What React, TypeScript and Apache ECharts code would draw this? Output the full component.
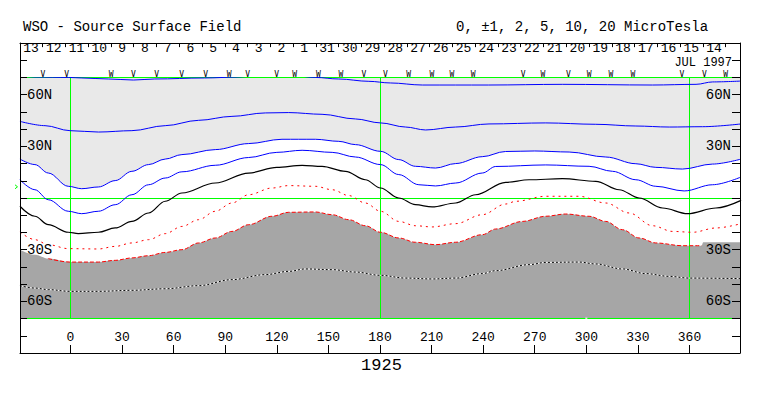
import React, { useEffect, useRef } from 'react';
import * as echarts from 'echarts';

// ---------- axes ----------
const X_MIN = -29.37;
const X_MAX = 389.37;
const LON_TICKS = [0, 30, 60, 90, 120, 150, 180, 210, 240, 270, 300, 330, 360];
const LAT_TICKS = [-80, -70, -60, -50, -40, -30, -20, -10, 0, 10, 20, 30, 40, 50, 60, 70, 80];
const LAT_LABELS = [-60, -30, 30, 60];
const GREEN_LON = [0, 180, 360];
const GREEN_LAT = [70, 0, -70];

// ---------- date row ----------
const DAY_LABELS = ['13', '12', '11', '10', '9', '8', '7', '6', '5', '4', '3', '2', '1', '31', '30', '29', '28', '27', '26', '25', '24', '23', '22', '21', '20', '19', '18', '17', '16', '15', '14'];
const DAY0_LON = -22.95; // Carrington longitude at the centre of the first day label
const DAY_STEP = 13.24; // degrees per day
const DAY_LABEL_LAT = 87.0;
const DAY_TICK_LAT = 87.6;

// ---------- observation marks ----------
const OBS_LON = [-16, -2.2, 23.6, 36.6, 50.1, 64.6, 78.6, 92.2, 103.1, 119.9, 130.4, 144.2, 157.3, 170.6, 183.2, 196.6, 210.2, 221.8, 234.2, 263.3, 274.8, 289.6, 301.6, 314.3, 327.1, 355.6, 368.6, 381.1];
const OBS_TYPE = ['V', 'V', 'W', 'V', 'V', 'V', 'V', 'W', 'V', 'V', 'W', 'W', 'W', 'V', 'V', 'W', 'W', 'W', 'W', 'V', 'W', 'V', 'W', 'W', 'W', 'V', 'V', 'W'];
const OBS_LAT = 71.8;
const B0_LAT = 6.5;

// ---------- contours [longitude, latitude] ----------
const C_P20 = [[-29.4, 71], [-20, 70.2], [-1.2, 70], [6.6, 69.7], [22, 69.1], [36.6, 68.5], [49, 69.1], [78, 69.7], [97, 70.2], [110, 71], [130, 71], [142.5, 70], [156, 69.1], [173.5, 67.75], [186, 66.8], [204.6, 65.6], [243, 65.6], [286, 66], [338.5, 65.6], [363.8, 66], [373.5, 67.4], [390, 67.9]];
const C_P10 = [[-29.4, 44.5], [-14.8, 42.0], [-0.3, 39.1], [16.3, 38.3], [35.7, 39.1], [55.1, 42.0], [74.5, 45.1], [93.9, 47.4], [113.3, 49.4], [126.9, 49.6], [146.3, 48.6], [165.7, 45.9], [180.3, 43.6], [194.9, 41.2], [206.5, 39.5], [224, 41.2], [243.4, 43.0], [276.4, 43.6], [305.5, 42.8], [328.8, 41.8], [348.2, 41.2], [367.6, 41.4], [390, 43.0]];
const C_P5 = [[-29.4, 22.6], [-20.7, 19.4], [-12.9, 14.5], [-1.3, 6.8], [6.5, 5.4], [16.2, 6.4], [26, 10.1], [35.7, 15.5], [45.4, 19.4], [55.1, 22.6], [64.8, 25.2], [84.2, 28.1], [103.6, 31.6], [123, 34.1], [142.4, 34.1], [156, 32.9], [165.7, 31.0], [180.3, 27.1], [190.9, 22.3], [200.6, 18.4], [212.3, 17.4], [224, 20.0], [239.5, 24.0], [253, 27.0], [270, 27.3], [290, 26.7], [311.3, 23.8], [328.8, 19.9], [340.4, 17.8], [355.9, 16.8], [373.4, 19.7], [390, 22.6]];
const C_P2 = [[-29.4, 10.6], [-20.7, 4.8], [-12.9, -1.0], [-1.3, -7.7], [6.5, -9.1], [16.2, -7.7], [26, -3.9], [35.7, 1.9], [45.4, 7.7], [55.1, 11.6], [64.8, 15.2], [84.2, 19.0], [103.6, 23.5], [120, 26.5], [134.7, 27.7], [152.2, 26.5], [165.7, 23.8], [180.3, 19.4], [190.9, 13.6], [202.6, 7.7], [212.3, 7.0], [224, 8.7], [239.5, 14.5], [247.3, 18.3], [276.4, 19.2], [301.6, 18.4], [315.2, 15.5], [328.8, 10.6], [340.4, 6.8], [356.9, 4.1], [373.4, 7.7], [390, 12.2]];
const C_ZERO = [[-29.4, -4.8], [-20.7, -10.6], [-12.9, -15.5], [-1.3, -19.9], [4.5, -20.7], [16.2, -19.9], [26, -17.4], [35.7, -13.6], [45.4, -8.7], [55.1, -1.9], [64.8, 2.9], [84.2, 8.7], [103.6, 14.5], [120, 17.8], [134.7, 19.0], [146.3, 18.4], [159.9, 15.5], [171.5, 10.6], [180.3, 5.8], [190.9, 0], [200.6, -3.9], [210.3, -5.2], [224, -2.9], [235.6, 1.9], [253.1, 9.1], [266.7, 10.6], [286.1, 11.2], [305.5, 9.7], [319.1, 4.8], [330.7, 0], [344.3, -5.8], [358.9, -9.1], [375.4, -5.8], [390, -1.4]];
const C_M2 = [[-29.4, -19.7], [-20.7, -24.2], [-12.9, -27.1], [-1.3, -29.4], [16.2, -29.6], [26, -28.1], [35.7, -26.1], [45.4, -24.2], [55.1, -20.7], [64.8, -16.5], [74.5, -12.6], [84.2, -7.7], [93.9, -2.9], [103.6, 1.9], [117.2, 5.8], [126.9, 7.2], [142.4, 6.8], [152.2, 4.8], [161.9, 1.4], [171.5, -2.9], [180.3, -7.7], [190.9, -13.6], [200.6, -16.1], [210.3, -16.8], [224, -14.9], [239.5, -9.7], [253.1, -3.5], [259, -1.9], [276.4, 1.0], [295.8, 1.0], [311.3, -2.9], [324.9, -8.7], [338.5, -16.1], [350.1, -19.4], [361.8, -19.9], [375.4, -17.4], [390, -14.9]];
const C_M5 = [[-29.4, -30], [-20.7, -33], [-12.9, -35.2], [-0.3, -37.2], [16.2, -37.2], [26, -36.2], [35.7, -34.8], [45.4, -33.5], [55.1, -31.6], [64.8, -30.0], [74.5, -26.1], [84.2, -23.2], [93.9, -19.4], [103.6, -15.5], [117.2, -10.6], [126.9, -8.3], [142.4, -8.1], [152.2, -9.7], [161.9, -12.6], [171.5, -16.1], [180.3, -19.9], [190.9, -23.2], [200.6, -25.7], [212.3, -27.1], [224, -25.7], [239.5, -21.3], [247.3, -18.0], [262.8, -13.6], [276.4, -10.6], [288, -9.3], [301.6, -10.6], [311.3, -13.6], [321, -18.4], [330.7, -23.2], [340.4, -26.1], [355.9, -27.7], [367, -27.7], [368, -25.7], [390, -25.7]];
const C_M10 = [[-29.4, -50.9], [-20.7, -52.3], [-12.9, -53.2], [-0.3, -54.2], [16.2, -54.2], [35.7, -53.6], [55.1, -52.7], [74.5, -50.9], [93.9, -47.4], [113.3, -44.5], [126.9, -42.6], [136.6, -41.2], [152.2, -41.6], [165.7, -43.0], [180.3, -44.9], [194.9, -46.5], [210.3, -47.0], [224, -46.5], [239.5, -43.9], [247.3, -42.2], [266.7, -38.7], [276.4, -37.4], [295.8, -37.2], [305.5, -38.3], [321, -41.2], [334.6, -43.9], [348.2, -45.5], [359.8, -46.5], [390, -46.8]];
const MARK_WHITE = [[300, -70]];

const FONT = "'Liberation Mono', 'DejaVu Sans Mono', monospace";
const BLUE = '#0000ff';
const RED = '#ff0000';
const GREEN = '#00ff00';
const LIGHT = '#e9e9e9';
const DARK = '#a6a6a6';

const line = (data: number[][], color: string, type: any, z = 5, width = 1) => ({
  type: 'line',
  data,
  xAxisIndex: 2,
  yAxisIndex: 2,
  smooth: 0.35,
  smoothMonotone: 'x',
  symbol: 'none',
  showSymbol: false,
  silent: true,
  clip: true,
  lineStyle: { color, width, type },
  z,
});

const latFmt = (v: number) => `${Math.abs(v)}${v > 0 ? 'N' : 'S'}`;
const crisp = (v: number) => Math.floor(v + 0.01) + 0.5;

export default function App() {
  const ref = useRef<HTMLDivElement>(null);
  useEffect(() => {
    if (!ref.current) return;
    const chart = echarts.init(ref.current, null, { renderer: 'svg' });
    const frameTop = 43;
    const frameH = 310;
    const pxPerDeg = frameH / 180;
    const axisLine = { show: true, onZero: false, lineStyle: { color: '#000', width: 1 } };

    const option: any = {
      animation: false,
      backgroundColor: '#ffffff',
      textStyle: { fontFamily: FONT },
      grid: [
        { left: 20, top: frameTop, width: 720, height: frameH },
        { left: 20, top: frameTop + 20 * pxPerDeg, width: 720, height: 140 * pxPerDeg },
      ],
      xAxis: [
        {
          gridIndex: 0, type: 'value', min: X_MIN, max: X_MAX, position: 'bottom', z: 20,
          axisLine,
          axisTick: { show: true, inside: true, length: 8, customValues: LON_TICKS, lineStyle: { color: '#000' } },
          axisLabel: { show: true, inside: true, margin: 9, customValues: LON_TICKS, color: '#000', fontSize: 13, fontFamily: FONT, formatter: (v: number) => String(v) },
          splitLine: { show: false },
        },
        {
          gridIndex: 0, type: 'value', min: X_MIN, max: X_MAX, position: 'top', z: 20,
          axisLine,
          axisTick: { show: false }, axisLabel: { show: false }, splitLine: { show: false },
        },
        {
          gridIndex: 1, type: 'value', min: X_MIN, max: X_MAX, show: false,
          axisLine: { show: false, onZero: false }, axisTick: { show: false }, axisLabel: { show: false }, splitLine: { show: false },
        },
      ],
      yAxis: [
        {
          gridIndex: 0, type: 'value', min: -90, max: 90, position: 'left', z: 20,
          axisLine,
          axisTick: { show: true, inside: true, length: 7, customValues: LAT_TICKS, lineStyle: { color: '#000' } },
          axisLabel: { show: true, inside: true, margin: 7, customValues: LAT_LABELS, color: '#000', fontSize: 14, fontFamily: FONT, formatter: latFmt },
          splitLine: { show: false },
        },
        {
          gridIndex: 0, type: 'value', min: -90, max: 90, position: 'right', z: 20,
          axisLine,
          axisTick: { show: true, inside: true, length: 8, customValues: LAT_TICKS, lineStyle: { color: '#000' } },
          axisLabel: { show: true, inside: true, margin: 9, customValues: LAT_LABELS, color: '#000', fontSize: 14, fontFamily: FONT, formatter: latFmt },
          splitLine: { show: false },
        },
        {
          gridIndex: 1, type: 'value', min: -70, max: 70, show: false,
          axisLine: { show: false, onZero: false }, axisTick: { show: false }, axisLabel: { show: false }, splitLine: { show: false },
        },
      ],
      graphic: [
        { type: 'text', left: 23, top: 20, style: { text: 'WSO - Source Surface Field', fill: '#000', font: `14px ${FONT}` } },
        { type: 'text', left: 456, top: 20, style: { text: '0, ±1, 2, 5, 10, 20 MicroTesla', fill: '#000', font: `14px ${FONT}` } },
        { type: 'text', right: 31, top: 56.5, style: { text: 'JUL 1997', fill: '#000', font: `12px ${FONT}`, lineHeight: 11 } },
        { type: 'text', left: 'center', top: 357, style: { text: '1925', fill: '#000', font: `17px ${FONT}` } },
      ],
      series: [
        // light-grey positive region above the 5 contour
        {
          type: 'line', data: C_P5, xAxisIndex: 2, yAxisIndex: 2, smooth: 0.35, smoothMonotone: 'x',
          symbol: 'none', silent: true, lineStyle: { width: 0, opacity: 0 },
          areaStyle: { color: LIGHT, origin: 'end', opacity: 1 }, z: 1,
        },
        // dark-grey negative region below the -5 contour
        {
          type: 'line', data: C_M5, xAxisIndex: 2, yAxisIndex: 2, smooth: 0.35, smoothMonotone: 'x',
          symbol: 'none', silent: true, lineStyle: { width: 0, opacity: 0 },
          areaStyle: { color: DARK, origin: 'start', opacity: 1 }, z: 1,
        },
        // green reference lines (vertical)
        {
          type: 'custom', xAxisIndex: 2, yAxisIndex: 2, silent: true, z: 3, clip: false,
          data: GREEN_LON.map((l) => [l, 0]),
          renderItem: (params: any, api: any) => {
            const a = api.coord([api.value(0), 70]);
            const b = api.coord([api.value(0), -70]);
            const x = crisp(a[0]);
            return { type: 'line', shape: { x1: x, y1: a[1], x2: x, y2: b[1] }, style: { stroke: GREEN, lineWidth: 1 } };
          },
        },
        // green reference lines (horizontal)
        {
          type: 'custom', xAxisIndex: 2, yAxisIndex: 2, silent: true, z: 3, clip: false,
          data: GREEN_LAT.map((v) => [X_MIN, v]),
          renderItem: (params: any, api: any) => {
            const a = api.coord([X_MIN, api.value(1)]);
            const b = api.coord([X_MAX, api.value(1)]);
            const y = crisp(a[1]);
            return { type: 'line', shape: { x1: a[0], y1: y, x2: b[0], y2: y }, style: { stroke: GREEN, lineWidth: 1 } };
          },
        },
        line(C_P20, BLUE, 'solid', 6),
        line(C_P10, BLUE, 'solid'),
        line(C_P5, BLUE, 'solid'),
        line(C_P2, BLUE, 'solid'),
        line(C_ZERO, '#000000', 'solid', 5, 1.2),
        line(C_M2, RED, [2, 4]),
        line(C_M5.slice(2, C_M5.length - 2), RED, [4, 2]),
        line(C_M10, '#ffffff', 'solid'),
        line(C_M10, '#000000', [2, 2], 6),
        {
          type: 'scatter', data: MARK_WHITE, xAxisIndex: 2, yAxisIndex: 2, symbol: 'rect', symbolSize: [2, 2],
          itemStyle: { color: '#ffffff' }, silent: true, z: 7,
        },
        // date row: labels and day-boundary ticks
        {
          type: 'custom', xAxisIndex: 0, yAxisIndex: 0, silent: true, z: 8, clip: false,
          data: DAY_LABELS.map((_, i) => [DAY0_LON + i * DAY_STEP, DAY_LABEL_LAT]),
          renderItem: (params: any, api: any) => {
            const lon = api.value(0);
            const c = api.coord([lon, api.value(1)]);
            const children: any[] = [
              { type: 'text', x: c[0], y: c[1], style: { text: DAY_LABELS[params.dataIndex], fill: '#000', font: `13px ${FONT}`, lineHeight: 11, align: 'center', verticalAlign: 'middle' } },
            ];
            const addTick = (tl: number) => {
              if (tl <= X_MIN + 0.5) return;
              const a = api.coord([tl, 90]);
              const b = api.coord([tl, DAY_TICK_LAT]);
              const x = Math.round(a[0]) + 0.5;
              children.push({ type: 'line', shape: { x1: x, y1: a[1], x2: x, y2: b[1] }, style: { stroke: '#000', lineWidth: 1 } });
            };
            addTick(lon - DAY_STEP / 2);
            if (params.dataIndex === DAY_LABELS.length - 1) addTick(lon + DAY_STEP / 2);
            return { type: 'group', children };
          },
        },
        // observation marks
        {
          type: 'custom', xAxisIndex: 0, yAxisIndex: 0, silent: true, z: 8, clip: false,
          data: OBS_LON.map((l) => [l, OBS_LAT]),
          renderItem: (params: any, api: any) => {
            const c = api.coord([api.value(0), api.value(1)]);
            return { type: 'text', x: c[0], y: c[1], style: { text: OBS_TYPE[params.dataIndex], fill: '#000', font: `8px 'DejaVu Sans Mono', monospace`, lineHeight: 7, align: 'center', verticalAlign: 'middle' } };
          },
        },
        // B0 marker
        {
          type: 'custom', xAxisIndex: 0, yAxisIndex: 0, silent: true, z: 8, clip: false,
          data: [[X_MIN, B0_LAT]],
          renderItem: (params: any, api: any) => {
            const c = api.coord([api.value(0), api.value(1)]);
            return {
              type: 'polyline',
              shape: { points: [[c[0] - 5, c[1] - 2], [c[0] - 2.5, c[1]], [c[0] - 5, c[1] + 2]] },
              style: { stroke: GREEN, lineWidth: 1, fill: 'none' },
            };
          },
        },
      ],
    };
    chart.setOption(option);
    return () => chart.dispose();
  }, []);
  return <div ref={ref} style={{ position: 'fixed', left: 0, top: 0, width: 763, height: 396, background: '#fff' }} />;
}
